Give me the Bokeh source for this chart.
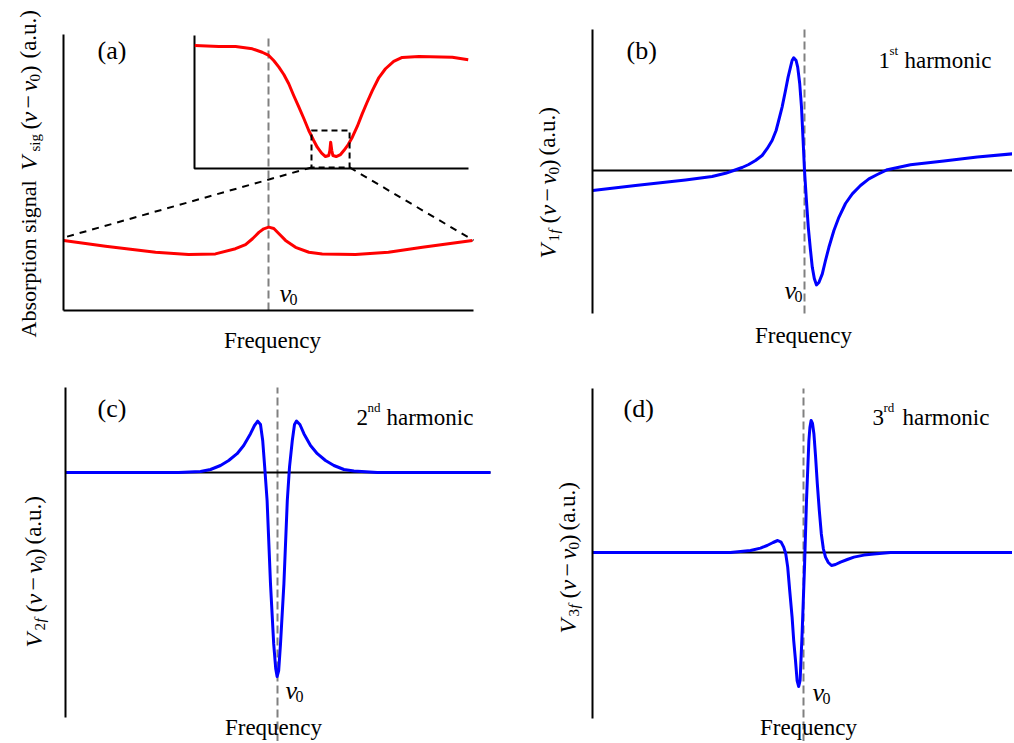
import math
from bokeh.plotting import figure
from bokeh.models import Range1d, Label, FixedTicker
from bokeh.layouts import column, row
from bokeh.embed import file_html
from bokeh.resources import INLINE

# ---------------- data (arbitrary units, nu0 = 0) ----------------
nu0 = 0.0

# (a) absorption signal, zoomed view near nu0
a_freq = [-9.99, -7.95, -5.51, -3.90, -2.59, -1.61, -1.12, -0.78, -0.47, -0.23, 0.01, 0.26,
          0.50, 0.83, 1.32, 1.97, 2.62, 4.24, 5.85, 7.51, 9.95]
a_signal = [2.54, 2.33, 2.11, 2.03, 2.05, 2.24, 2.39, 2.60, 2.83, 2.96, 3.02, 2.97,
            2.79, 2.54, 2.29, 2.11, 2.05, 2.03, 2.11, 2.29, 2.54]

# (a) inset: full absorption line (inset units 0..10)
inset_freq = [0.01, 0.89, 1.50, 2.11, 2.47, 2.71, 2.89, 3.08, 3.26, 3.44, 3.62, 3.81, 3.99,
              4.17, 4.35, 4.48, 4.64, 4.78, 4.90, 4.94, 4.97, 5.01, 5.05, 5.17, 5.33, 5.45,
              5.61, 5.76, 5.94, 6.12, 6.30, 6.49, 6.73, 6.97, 7.27, 7.58, 8.19, 9.41, 9.99]
inset_signal = [9.25, 9.17, 9.17, 9.00, 8.74, 8.50, 8.12, 7.62, 7.07, 6.37, 5.49, 4.61, 3.76,
                2.86, 2.11, 1.60, 1.15, 0.90, 0.98, 1.35, 1.98, 1.35, 0.98, 0.90, 1.05, 1.35,
                1.80, 2.35, 3.16, 4.11, 4.98, 5.86, 6.84, 7.50, 8.05, 8.35, 8.42, 8.37, 8.17]
inset_x_lim = [0.0, 10.0]
inset_y_lim = [0.0, 10.0]
zoom_box_x = [4.27, 5.66]
zoom_box_y = [0.08, 2.86]
connector_end_x = [-10.0, 10.0]
connector_end_y = [2.64, 2.54]

# (b) first harmonic
b_freq = [-10.59, -8.45, -5.95, -4.62, -3.95, -3.54, -3.12, -2.79, -2.45, -2.12, -1.87, -1.62,
          -1.42, -1.29, -1.12, -0.95, -0.82, -0.70, -0.62, -0.54, -0.42, -0.34, -0.24, -0.15,
          -0.07, 0.00, 0.09, 0.19, 0.29, 0.39, 0.49, 0.60, 0.72, 0.89, 1.05, 1.22, 1.47, 1.72,
          2.05, 2.39, 2.80, 3.22, 3.64, 4.14, 5.30, 6.97, 8.64, 10.47]
b_signal = [-1.00, -0.75, -0.47, -0.30, -0.14, 0.00, 0.15, 0.30, 0.50, 0.75, 1.09, 1.50,
            2.00, 2.50, 3.17, 4.00, 4.67, 5.17, 5.50, 5.64, 5.50, 5.17, 4.35, 3.17,
            1.50, 0.00, -1.40, -2.84, -3.90, -4.84, -5.40, -5.72, -5.60, -5.17, -4.50, -3.84,
            -3.00, -2.34, -1.65, -1.17, -0.75, -0.42, -0.20, 0.04, 0.29, 0.47, 0.67, 0.84]

# (c) second harmonic
c_freq = [-10.6, -4.94, -3.85, -3.35, -2.85, -2.44, -2.02, -1.69, -1.35, -1.15, -0.99, -0.85,
          -0.74, -0.64, -0.52, -0.35, -0.19, -0.09, -0.02, 0.06, 0.15, 0.32, 0.49, 0.60, 0.74,
          0.85, 0.95, 1.12, 1.32, 1.65, 1.99, 2.40, 2.82, 3.32, 3.82, 4.99, 10.65]
c_signal = [0.0, 0.0, 0.05, 0.15, 0.35, 0.60, 0.94, 1.35, 1.94, 2.35, 2.57, 2.40,
            1.60, 0.27, -1.40, -5.57, -8.57, -9.80, -10.2, -9.90, -8.57, -5.57, -1.40, 0.27, 1.60,
            2.40, 2.57, 2.40, 1.94, 1.35, 0.94, 0.60, 0.35, 0.15, 0.07, 0.0, 0.0]

# (d) third harmonic
d_freq = [-10.55, -3.65, -2.65, -2.15, -1.82, -1.52, -1.29, -1.12, -0.99, -0.89, -0.79, -0.69,
          -0.57, -0.49, -0.40, -0.32, -0.24, -0.17, -0.07, 0.05, 0.15, 0.27, 0.32, 0.38, 0.45,
          0.52, 0.60, 0.69, 0.79, 0.89, 0.99, 1.10, 1.24, 1.40, 1.60, 1.85, 2.19, 2.52, 3.02,
          3.52, 4.35, 10.45]
d_signal = [0.0, 0.0, 0.10, 0.22, 0.35, 0.50, 0.60, 0.52, 0.27, -0.05, -0.73, -1.90,
            -3.23, -4.40, -5.40, -6.40, -6.70, -6.40, -4.07, -0.73, 2.60, 5.60, 6.25, 6.60, 6.45,
            5.94, 4.85, 3.44, 2.10, 0.94, 0.20, -0.23, -0.50, -0.65, -0.60, -0.48, -0.35, -0.23,
            -0.13, -0.07, 0.0, 0.0]

panel_tags = ["(a)", "(b)", "(c)", "(d)"]
harmonic_num = ["1", "2", "3"]
harmonic_sup = ["st", "nd", "rd"]
harmonic_word = "harmonic"
x_title = "Frequency"
a_ytitle = "Absorption signal"
units = "(a.u.)"

# ---------------- layout (page pixel geometry) ----------------
FONT = "Liberation Serif"
RED = "#ff0000"
BLUE = "#0000ff"
GRAY = "#808080"

# each figure fills its cell; BOXES is where the drawn axes sit inside it
CELLS = {"a": (0, 0, 500, 370), "b": (500, 0, 1012, 370),
         "c": (0, 370, 500, 741), "d": (500, 370, 1012, 741)}
BOXES = {"a": (63, 34, 473, 310), "b": (592, 29, 1012, 313),
         "c": (65, 387, 490, 717), "d": (592, 388, 1012, 718)}
BOX_RANGES = {"a": (-10.0, 10.0, 0.0, 10.0), "b": (-10.6, 10.4, -7.15, 7.05),
              "c": (-10.6, 10.65, -12.25, 4.25), "d": (-10.55, 10.45, -8.3, 8.2)}
DASH_PX = {"a": (34, 310), "b": (29, 313), "c": (387, 741), "d": (388, 741)}
INSET_BOX = (194, 35, 468, 168)


def to_data(key, rx, ry):
    L, T, R, B = BOXES[key]
    x0, x1, y0, y1 = BOX_RANGES[key]
    return x0 + (rx - L) / (R - L) * (x1 - x0), y1 - (ry - T) / (B - T) * (y1 - y0)


def make_panel(key, bottom_axis=False, zero_line=True):
    cl, ct, cr, cb = CELLS[key]
    x0, x1, y0, y1 = BOX_RANGES[key]
    xs, ytop = to_data(key, cl, ct)
    xe, ybot = to_data(key, cr, cb)
    p = figure(width=cr - cl, height=cb - ct,
               x_range=Range1d(xs, xe), y_range=Range1d(ybot, ytop),
               x_axis_type="linear" if bottom_axis else None,
               output_backend="svg", toolbar_location=None, tools="",
               min_border=0)
    p.outline_line_color = None
    p.background_fill_color = "white"
    p.border_fill_color = "white"
    p.grid.visible = False
    for ax in p.axis:
        ax.ticker = FixedTicker(ticks=[])
        ax.major_tick_line_color = None
        ax.minor_tick_line_color = None
        ax.major_label_text_font_size = "0px"
        ax.major_label_standoff = 0
        ax.major_tick_out = 0
        ax.minor_tick_out = 0
        ax.axis_line_width = 2
        ax.axis_line_color = "black"
    p.yaxis.fixed_location = x0
    p.yaxis.bounds = (y0, y1)
    if bottom_axis:
        p.xaxis.fixed_location = y0
        p.xaxis.bounds = (x0, x1)
    d0, d1 = DASH_PX[key]
    _, yd0 = to_data(key, 0, d1)
    _, yd1 = to_data(key, 0, d0)
    p.line([nu0, nu0], [yd0, yd1], line_color=GRAY, line_width=2, line_dash="8 4")
    if zero_line:
        p.line([x0, x1], [0.0, 0.0], line_color="black", line_width=2)
    return p


def add_text(p, key, rx, ry, text, size, italic=False, align="left", angle=0.0):
    x, y = to_data(key, rx, ry)
    p.add_layout(Label(x=x, y=y, text=text, text_font=FONT, text_font_size=f"{size}px",
                       text_font_style="italic" if italic else "normal",
                       text_align=align, text_baseline="alphabetic", angle=angle,
                       text_color="black"))


def nu0_label(p, key, rx, ry):
    add_text(p, key, rx, ry, "ν", 26, italic=True)
    add_text(p, key, rx + 10, ry + 6, "0", 16)


def harmonic(p, key, rx, ry, i):
    add_text(p, key, rx, ry, harmonic_num[i], 23)
    add_text(p, key, rx + 11, ry - 10, harmonic_sup[i], 13)
    w = 11 + (10 if i == 0 else 14) + 5
    add_text(p, key, rx + w, ry, harmonic_word, 23)


UP = math.pi / 2


def v_label(p, key, bx, by, n):
    pieces = [("V", 24, True, 0, 0), (n, 15, False, 17, 6), ("f", 15, True, 25, 6),
              ("(", 24, False, 35, 0), ("ν", 24, True, 43, 0), ("−", 24, False, 57, 0),
              ("ν", 24, True, 74, 0), ("0", 15, False, 84, 6), (")", 24, False, 91, 0),
              (units, 23, False, 103, 0)]
    for text, size, it, along, shift in pieces:
        add_text(p, key, bx + shift, by - along, text, size, italic=it, angle=UP)


# ---------------- panel (a) ----------------
pa = make_panel("a", bottom_axis=True, zero_line=False)
cl, ct, cr, cb = CELLS["a"]
iL, iT, iR, iB = INSET_BOX
ipx = (inset_x_lim[1] - inset_x_lim[0]) / (iR - iL)
ipy = (inset_y_lim[1] - inset_y_lim[0]) / (iB - iT)
pa.extra_x_ranges = {"inset": Range1d(inset_x_lim[0] - (iL - cl) * ipx, inset_x_lim[1] + (cr - iR) * ipx)}
pa.extra_y_ranges = {"inset": Range1d(inset_y_lim[0] - (cb - iB) * ipy, inset_y_lim[1] + (iT - ct) * ipy)}


def inset_to_main(ix, iy):
    rx = iL + (ix - inset_x_lim[0]) / ipx
    ry = iB - (iy - inset_y_lim[0]) / ipy
    return to_data("a", rx, ry)


pa.line(a_freq, a_signal, line_color=RED, line_width=3, line_join="round")
pa.line([inset_x_lim[0], inset_x_lim[0], inset_x_lim[1]], [inset_y_lim[1], inset_y_lim[0], inset_y_lim[0]],
        line_color="black", line_width=2, x_range_name="inset", y_range_name="inset")
pa.line(inset_freq, inset_signal, line_color=RED, line_width=3, line_join="round",
        x_range_name="inset", y_range_name="inset")
pa.quad(left=zoom_box_x[0], right=zoom_box_x[1], bottom=zoom_box_y[0], top=zoom_box_y[1],
        fill_color=None, line_color="black", line_width=2, line_dash="6 4",
        x_range_name="inset", y_range_name="inset")
for k in range(2):
    cx, cy = inset_to_main(zoom_box_x[k], zoom_box_y[0])
    pa.line([cx, connector_end_x[k]], [cy, connector_end_y[k]], line_color="black",
            line_width=2, line_dash="7 6")

add_text(pa, "a", 97, 50, panel_tags[0], 26)
add_text(pa, "a", 272, 340, x_title, 23, align="center")
nu0_label(pa, "a", 279, 293)
for text, size, it, ystart, shift in [(a_ytitle, 22, False, 337, 0), ("V", 24, True, 170, 0),
                                      ("sig", 15, False, 151, 6), ("(", 24, False, 129, 0),
                                      ("ν", 24, True, 122, 0), ("−", 24, False, 108, 0),
                                      ("ν", 24, True, 91, 0), ("0", 15, False, 81, 6),
                                      (")", 24, False, 73, 0), (units, 23, False, 58, 0)]:
    add_text(pa, "a", 28 + shift, ystart, text, size, italic=it, angle=UP)

# ---------------- panel (b) ----------------
pb = make_panel("b")
pb.line(b_freq, b_signal, line_color=BLUE, line_width=3, line_join="round")
add_text(pb, "b", 626, 50, panel_tags[1], 26)
add_text(pb, "b", 803, 335, x_title, 23, align="center")
nu0_label(pb, "b", 784, 290)
harmonic(pb, "b", 878, 60, 0)
v_label(pb, "b", 547, 258, "1")

# ---------------- panel (c) ----------------
pc = make_panel("c")
pc.line(c_freq, c_signal, line_color=BLUE, line_width=3, line_join="round")
add_text(pc, "c", 97, 408, panel_tags[2], 26)
add_text(pc, "c", 273, 727, x_title, 23, align="center")
nu0_label(pc, "c", 285, 690)
harmonic(pc, "c", 356, 417, 1)
v_label(pc, "c", 33, 647, "2")

# ---------------- panel (d) ----------------
pd_ = make_panel("d")
pd_.line(d_freq, d_signal, line_color=BLUE, line_width=3, line_join="round")
add_text(pd_, "d", 623, 408, panel_tags[3], 26)
add_text(pd_, "d", 808, 727, x_title, 23, align="center")
nu0_label(pd_, "d", 812, 692)
harmonic(pd_, "d", 872, 417, 2)
v_label(pd_, "d", 567, 633, "3")

layout = column(row(pa, pb), row(pc, pd_))
open("out.html", "w").write(file_html(layout, INLINE))
